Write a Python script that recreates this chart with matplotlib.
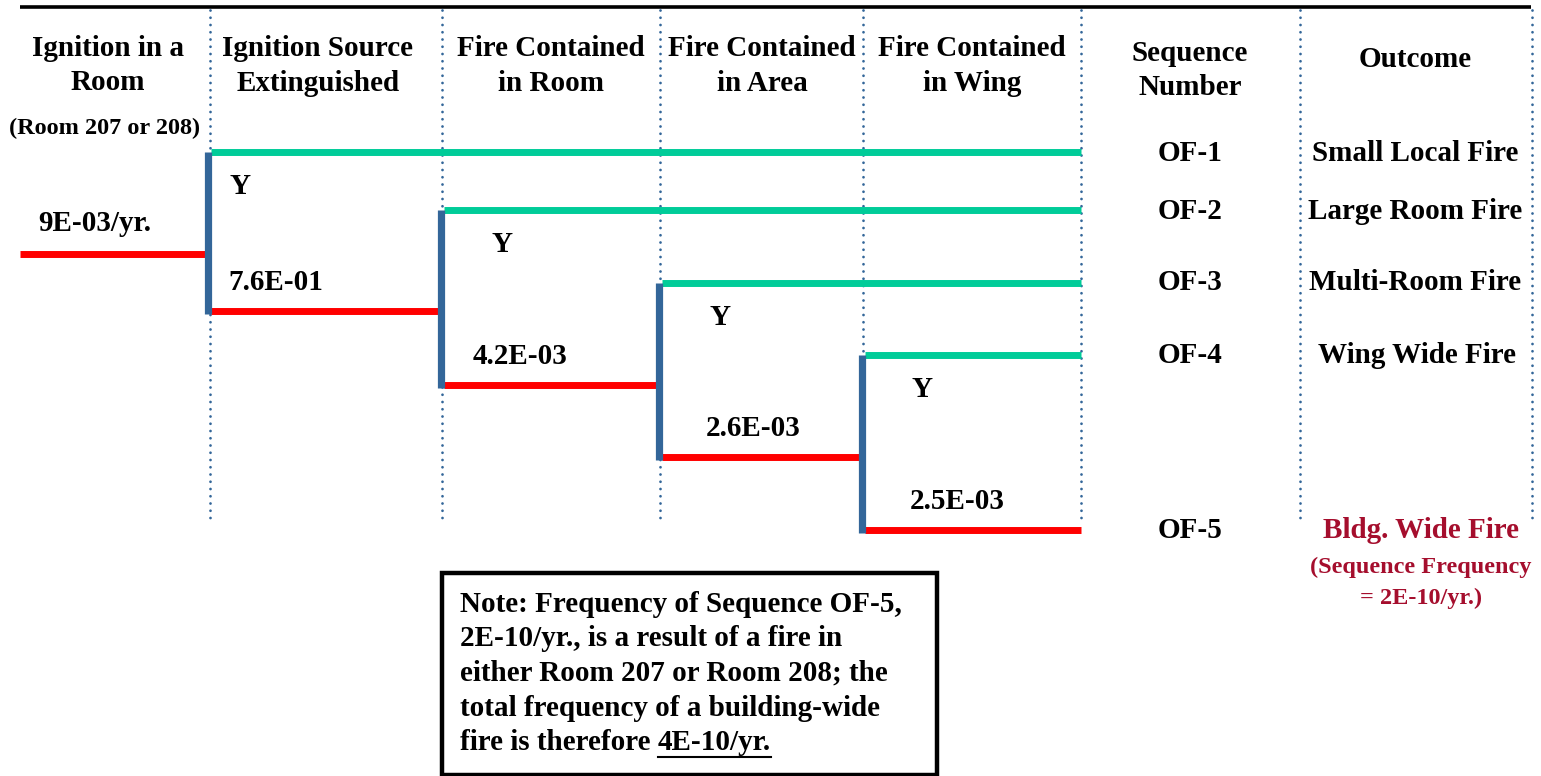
import matplotlib
matplotlib.use("Agg")
import matplotlib.pyplot as plt
from matplotlib.patches import Rectangle

plt.rcParams['font.family'] = ['Liberation Serif', 'DejaVu Serif']
plt.rcParams['font.weight'] = 'bold'

# event tree content
headers = [["Ignition in a", "Room"], ["Ignition Source", "Extinguished"],
           ["Fire Contained", "in Room"], ["Fire Contained", "in Area"],
           ["Fire Contained", "in Wing"], ["Sequence", "Number"], ["Outcome"]]
initiator_note = "(Room 207 or 208)"
initiator_freq = "9E-03/yr."
failure_probs = ["7.6E-01", "4.2E-03", "2.6E-03", "2.5E-03"]
sequences = ["OF-1", "OF-2", "OF-3", "OF-4", "OF-5"]
outcomes = ["Small Local Fire", "Large Room Fire", "Multi-Room Fire", "Wing Wide Fire", "Bldg. Wide Fire"]
outcome_note = ["(Sequence Frequency", "= 2E-10/yr.)"]
note_lines = ["Note: Frequency of Sequence OF-5,",
              "2E-10/yr., is a result of a fire in",
              "either Room 207 or Room 208; the",
              "total frequency of a building-wide",
              "fire is therefore "]
note_total = "4E-10/yr."

# layout (pixels, y down, text placed by baseline)
W, H = 1541, 776
col_x = [210, 442, 660, 863, 1081, 1300, 1532]
header_x = [108, 318, 551, 762, 972, 1190, 1415]
header_base = [[56, 90], [56, 91], [56, 91], [56, 91], [56, 91], [61, 95], [67]]
node_x = [208, 441, 659, 862]
yes_y = [152, 210, 283, 355]
no_y = [311, 385, 457, 530]
y_left = [230, 492, 710, 912]
p_left = [228, 473, 706, 910]
start_y = 254
end_x = 1081
seq_base = [161, 219, 290, 363, 538]
outcome_x = [1415, 1415, 1415, 1417, 1421]

BLUE = '#336699'
GREEN = '#00CC99'
RED = '#FF0000'
DARKRED = '#A50E2D'
FS = 21
FS_SMALL = 17.5

fig = plt.figure(figsize=(W / 100, H / 100), dpi=100)
ax = fig.add_axes([0, 0, 1, 1])
ax.set_xlim(0, W)
ax.set_ylim(H, 0)
ax.axis('off')


def txt(x, y, s, ha='center', size=FS, color='black'):
    return ax.text(x, y, s, ha=ha, va='baseline', fontsize=size, color=color)


# top rule
ax.plot([20, 1531], [7, 7], color='black', lw=2.6, solid_capstyle='butt')

# dotted column separators
for x in col_x:
    ax.plot([x, x], [10, 523], color=BLUE, lw=2.0, linestyle=(0, (0.01, 2.6)),
            dash_capstyle='round')

# headers
for hx, bases, lines in zip(header_x, header_base, headers):
    for b, line in zip(bases, lines):
        txt(hx, b, line)
txt(105, 134, initiator_note, size=FS_SMALL)

# initiator line
ax.plot([20, node_x[0]], [start_y, start_y], color=RED, lw=5, solid_capstyle='butt')
txt(95, 231, initiator_freq)

# branches
for i, (nx, yy, ny, p) in enumerate(zip(node_x, yes_y, no_y, failure_probs)):
    ax.plot([nx, nx], [yy, ny + 3], color=BLUE, lw=5.2, solid_capstyle='butt', zorder=3)
    ax.plot([nx + 3, end_x], [yy, yy], color=GREEN, lw=5, solid_capstyle='butt')
    nxt = node_x[i + 1] if i + 1 < len(node_x) else end_x
    ax.plot([nx + 3, nxt], [ny, ny], color=RED, lw=5, solid_capstyle='butt')
    txt(y_left[i], yy + 42, "Y", ha='left')
    txt(p_left[i], ny - 21, p, ha='left')

# sequence numbers and outcomes
for sb, ox, s, o in zip(seq_base, outcome_x, sequences, outcomes):
    txt(1190, sb, s)
    txt(ox, sb, o, color=DARKRED if s == sequences[-1] else 'black')
for b, line in zip([573, 604], outcome_note):
    txt(1421, b, line, size=FS_SMALL, color=DARKRED)

# note box
ax.add_patch(Rectangle((442, 573), 495, 202, fill=False, edgecolor='black', lw=3.2, zorder=4))
for k, line in enumerate(note_lines):
    t = txt(460, 612 + 34.5 * k, line, ha='left')
fig.canvas.draw()
bb = t.get_window_extent().transformed(ax.transData.inverted())
tt = txt(bb.x1, 612 + 34.5 * 4, note_total, ha='left')
fig.canvas.draw()
ub = tt.get_window_extent().transformed(ax.transData.inverted())
ax.plot([ub.x0, ub.x1], [757, 757], color='black', lw=1.5)

fig.savefig('out.png', dpi=100)
